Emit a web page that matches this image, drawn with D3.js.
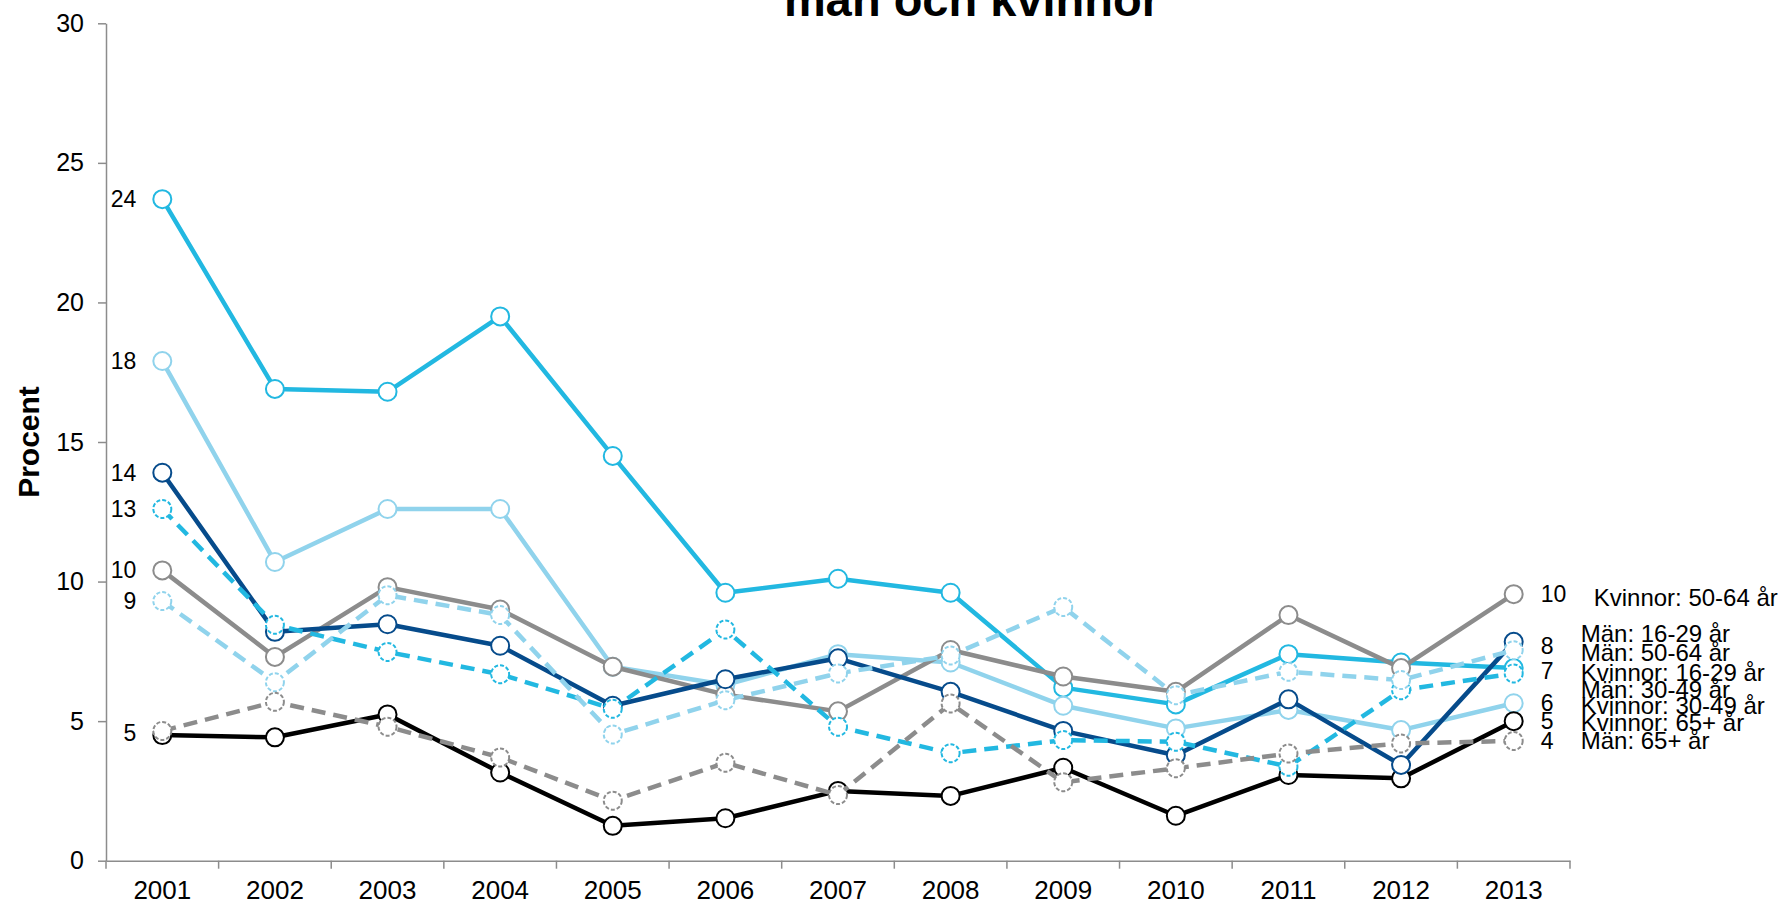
<!DOCTYPE html>
<html>
<head>
<meta charset="utf-8">
<script src="https://cdn.jsdelivr.net/npm/d3@7"></script>
<style>
  body { margin: 0; background: #fff; }
  svg { display: block; font-family: "Liberation Sans", Arial, sans-serif; }
</style>
</head>
<body>
<script>
// data
const years = [2001, 2002, 2003, 2004, 2005, 2006, 2007, 2008, 2009, 2010, 2011, 2012, 2013];
const yTicks = [0, 5, 10, 15, 20, 25, 30];

const kvinnor1629 = [23.7, 16.9, 16.8, 19.5, 14.5, 9.6, 10.1, 9.6, 6.2, 5.6, 7.4, 7.1, 6.9];
const kvinnor3049 = [17.9, 10.7, 12.6, 12.6, 6.95, 6.3, 7.4, 7.1, 5.55, 4.74, 5.4, 4.68, 5.64];
const kvinnor5064 = [10.4, 7.3, 9.8, 9.0, 6.95, 5.95, 5.35, 7.55, 6.6, 6.05, 8.8, 6.9, 9.55];
const kvinnor65 = [4.5, 4.42, 5.24, 3.16, 1.25, 1.52, 2.5, 2.32, 3.33, 1.61, 3.07, 2.95, 5.0];
const man1629 = [13.9, 8.2, 8.47, 7.7, 5.55, 6.5, 7.25, 6.05, 4.65, 3.78, 5.78, 3.43, 7.84];
const man3049 = [12.6, 8.45, 7.48, 6.68, 5.44, 8.28, 4.8, 3.85, 4.32, 4.26, 3.37, 6.11, 6.71];
const man5064 = [9.3, 6.39, 9.51, 8.8, 4.52, 5.75, 6.71, 7.35, 9.09, 5.93, 6.77, 6.47, 7.54];
const man65 = [4.65, 5.69, 4.8, 3.7, 2.15, 3.51, 2.35, 5.63, 2.81, 3.31, 3.84, 4.2, 4.29];

const seriesNames = ["Kvinnor: 16-29 år", "Kvinnor: 30-49 år", "Kvinnor: 50-64 år", "Kvinnor: 65+ år",
                     "Män: 16-29 år", "Män: 30-49 år", "Män: 50-64 år", "Män: 65+ år"];
const seriesValues = [kvinnor1629, kvinnor3049, kvinnor5064, kvinnor65, man1629, man3049, man5064, man65];

// styling / label layout
const colors = ["#22b8e1", "#90d3ec", "#8c8c8c", "#000000", "#064b8b", "#22b8e1", "#90d3ec", "#8c8c8c"];
const dashed = [false, false, false, false, false, true, true, true];
// where the series names sit on the right (in chart units, spread apart like the original)
const nameLabelAt = [6.74, 5.56, 9.42, 4.95, 8.12, 6.13, 7.45, 4.30];

const series = seriesNames.map((name, i) => ({
  name, values: seriesValues[i], color: colors[i], dashed: dashed[i], nameAt: nameLabelAt[i]
}));

const W = 1783, H = 904;
const plotLeft = 106, plotRight = 1570, plotTop = 23.3, plotBottom = 860.7;

const svg = d3.select("body").append("svg")
  .attr("width", W)
  .attr("height", H);

const x = d3.scaleBand().domain(years).range([plotLeft, plotRight]).padding(0);
const cx = d => x(d) + x.bandwidth() / 2;
const y = d3.scaleLinear().domain([0, 30]).range([plotBottom, plotTop]);

// title (only the lower part is visible in the original)
svg.append("text")
  .attr("x", 972)
  .attr("y", 16)
  .attr("text-anchor", "middle")
  .attr("font-size", 47)
  .attr("font-weight", "bold")
  .text("män och kvinnor");

// y axis
const yAxis = svg.append("g")
  .attr("transform", `translate(${plotLeft},0)`)
  .call(d3.axisLeft(y).tickValues(yTicks).tickSize(8).tickSizeOuter(0).tickPadding(14));
yAxis.attr("font-family", null).attr("font-size", 25);
yAxis.selectAll("path, line").attr("stroke", "#8c8c8c").attr("stroke-width", 1.5);
yAxis.selectAll("text").attr("fill", "#000");

// x axis: labels in band centres, ticks on the band edges
const xAxis = svg.append("g")
  .attr("transform", `translate(0,${plotBottom})`)
  .call(d3.axisBottom(x).tickSize(0).tickSizeOuter(0).tickPadding(20));
xAxis.attr("font-family", null).attr("font-size", 26);
xAxis.select(".domain").attr("stroke", "#8c8c8c").attr("stroke-width", 1.5);
xAxis.selectAll("text").attr("fill", "#000");

const edges = years.map(d => x(d)).concat([x.range()[1]]);
xAxis.selectAll(".edge")
  .data(edges)
  .enter()
  .append("line")
  .attr("x1", d => d).attr("x2", d => d)
  .attr("y1", 0).attr("y2", 8)
  .attr("stroke", "#8c8c8c")
  .attr("stroke-width", 1.5);

// y axis label
svg.append("text")
  .attr("transform", "translate(39,442) rotate(-90)")
  .attr("text-anchor", "middle")
  .attr("font-size", 30)
  .attr("font-weight", "bold")
  .text("Procent");

// lines + markers
const line = d3.line()
  .x((d, i) => cx(years[i]))
  .y(d => y(d));

series.forEach(s => {
  const g = svg.append("g");
  g.append("path")
    .datum(s.values)
    .attr("d", line)
    .attr("fill", "none")
    .attr("stroke", s.color)
    .attr("stroke-width", 4.5)
    .attr("stroke-linejoin", "round")
    .attr("stroke-dasharray", s.dashed ? "14,8" : null);
  g.selectAll("circle")
    .data(s.values)
    .enter()
    .append("circle")
    .attr("cx", (d, i) => cx(years[i]))
    .attr("cy", d => y(d))
    .attr("r", 9)
    .attr("fill", "#fff")
    .attr("stroke", s.color)
    .attr("stroke-width", 2)
    .attr("stroke-dasharray", s.dashed ? "4,2" : null);
});

// value labels at both ends (one per rounded value, like the original)
function endLabels(idx, xPos, anchor) {
  const groups = d3.groups(series, s => Math.round(s.values[idx]));
  svg.append("g")
    .selectAll("text")
    .data(groups)
    .enter()
    .append("text")
    .attr("x", xPos)
    .attr("y", d => y(d3.mean(d[1], s => s.values[idx])))
    .attr("dy", "0.35em")
    .attr("text-anchor", anchor)
    .attr("font-size", 23)
    .text(d => d[0]);
}
endLabels(0, cx(years[0]) - 26, "end");
endLabels(years.length - 1, cx(years[years.length - 1]) + 27, "start");

// series names on the right
svg.append("g")
  .selectAll("text")
  .data(series)
  .enter()
  .append("text")
  .attr("x", d => cx(years[years.length - 1]) + (d.name === "Kvinnor: 50-64 år" ? 80 : 67))
  .attr("y", d => y(d.nameAt))
  .attr("dy", "0.35em")
  .attr("font-size", 24)
  .text(d => d.name);
</script>
</body>
</html>
